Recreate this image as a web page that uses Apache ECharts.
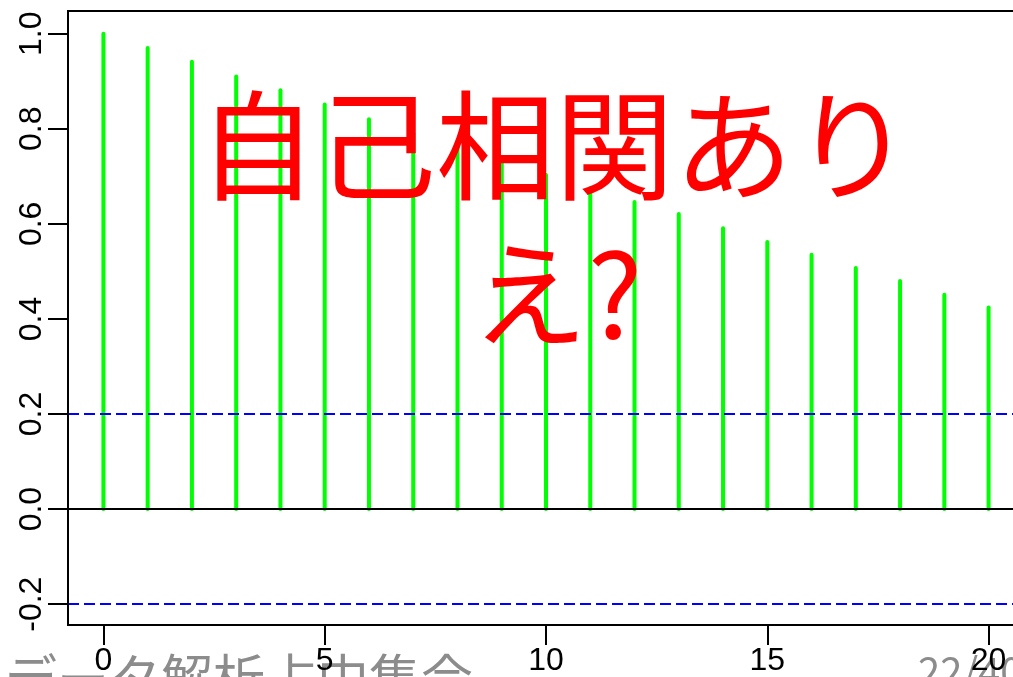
<!DOCTYPE html>
<html>
<head>
<meta charset="utf-8">
<script src="https://cdn.jsdelivr.net/npm/echarts@6/dist/echarts.min.js"></script>
<style>
  html, body { margin: 0; padding: 0; background: #fff; overflow: hidden; }
  #chart { width: 1040px; height: 677px; }
</style>
</head>
<body>
<div id="chart"></div>
<script>
// Sample autocorrelation by lag
const lags = [0, 1, 2, 3, 4, 5, 6, 7, 8, 9, 10, 11, 12, 13, 14, 15, 16, 17, 18, 19, 20];
const acfValues = [1.000, 0.970, 0.941, 0.910, 0.881, 0.851, 0.820, 0.790, 0.761, 0.732,
                   0.703, 0.675, 0.646, 0.621, 0.591, 0.562, 0.535, 0.507, 0.480, 0.451, 0.424];
// 95% confidence bound (±1.96/sqrt(n), n = 100)
const ciBound = 0.196;

const xTicks = [0, 5, 10, 15, 20];
const yTicks = [-0.2, 0.0, 0.2, 0.4, 0.6, 0.8, 1.0];

const titleLines = ['自己相関あり', 'え?'];
const footerText = 'データ解析占中集会';
const pageText = '22/40';

const chart = echarts.init(document.getElementById('chart'), null, { renderer: 'canvas' });

const font = '"Liberation Sans", Arial, Helvetica, sans-serif';
const cjkFont = '"Noto Sans CJK JP", "Noto Sans", sans-serif';

const data = lags.map((l, i) => [l, acfValues[i]]);

const option = {
  backgroundColor: '#ffffff',
  animation: false,
  grid: {
    left: 68, right: 16, top: 11, bottom: 51,
    show: true, borderColor: '#000', borderWidth: 2, backgroundColor: 'transparent'
  },
  xAxis: {
    type: 'value',
    min: -0.8, max: 20.8,
    z: 5,
    splitLine: { show: false },
    axisLine: { show: true, onZero: false, lineStyle: { color: '#000', width: 2 } },
    axisTick: { show: true, length: 20, lineStyle: { color: '#000', width: 2 }, customValues: xTicks },
    axisLabel: {
      customValues: xTicks, margin: 20, color: '#000', fontSize: 32, fontFamily: font,
      formatter: v => String(v)
    }
  },
  yAxis: {
    type: 'value',
    min: -0.2438, max: 1.0478,
    z: 5,
    splitLine: { show: false },
    axisLine: { show: true, onZero: false, lineStyle: { color: '#000', width: 2 } },
    axisTick: { show: true, length: 20, lineStyle: { color: '#000', width: 2 }, customValues: yTicks },
    axisLabel: {
      customValues: yTicks, rotate: 90, margin: 20, color: '#000', fontSize: 32, fontFamily: font,
      formatter: v => v.toFixed(1)
    }
  },
  series: [
    {
      name: 'bounds',
      type: 'line',
      data: [],
      z: 1,
      markLine: {
        silent: true,
        symbol: ['none', 'none'],
        label: { show: false },
        data: [
          { yAxis: ciBound, lineStyle: { color: '#0000ff', type: [11, 5], width: 2 } },
          { yAxis: -ciBound, lineStyle: { color: '#0000ff', type: [11, 5], width: 2 } },
          { yAxis: 0, lineStyle: { color: '#000000', type: 'solid', width: 2 } }
        ]
      }
    },
    {
      name: 'ACF',
      type: 'custom',
      z: 3,
      data: data,
      renderItem: (params, api) => {
        const x = api.value(0), v = api.value(1);
        const p0 = api.coord([x, 0]);
        const p1 = api.coord([x, v]);
        return {
          type: 'line',
          shape: { x1: p0[0], y1: p0[1], x2: p1[0], y2: p1[1] },
          style: { stroke: '#00ff00', lineWidth: 4, lineCap: 'round' }
        };
      }
    }
  ],
  graphic: [
    {
      type: 'text', z: 100, x: 555, y: 146,
      style: {
        text: titleLines[0], fill: '#ff0000', font: '119px ' + cjkFont,
        textAlign: 'center', textVerticalAlign: 'middle'
      }
    },
    {
      type: 'text', z: 100, x: 557, y: 294,
      style: {
        text: titleLines[1], fill: '#ff0000', font: '116px ' + cjkFont,
        textAlign: 'center', textVerticalAlign: 'middle'
      }
    },
    {
      type: 'text', z: -1, x: 5, y: 652,
      style: {
        text: footerText, fill: '#8c8c8c', font: '52px ' + cjkFont,
        textAlign: 'left', textVerticalAlign: 'top'
      }
    },
    {
      type: 'text', z: -1, x: 918, y: 652,
      style: {
        text: pageText, fill: '#8c8c8c', font: '40px ' + cjkFont,
        textAlign: 'left', textVerticalAlign: 'top'
      }
    }
  ]
};

chart.setOption(option);
</script>
</body>
</html>
